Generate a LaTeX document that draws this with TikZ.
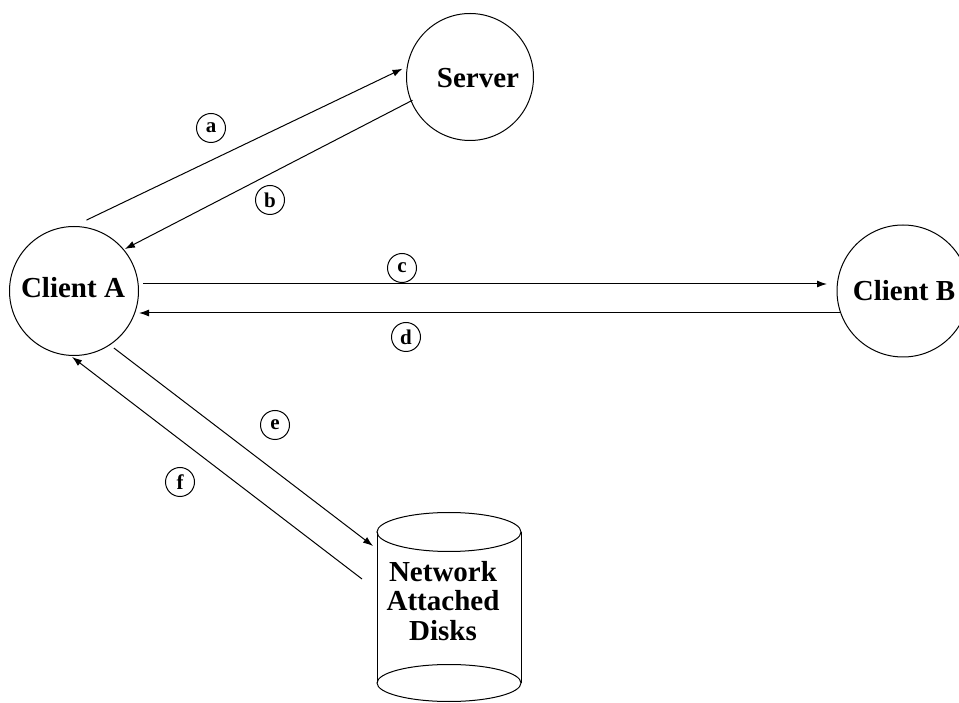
\documentclass[tikz,border=0pt]{standalone}
\usepackage{fontspec}
\setmainfont{Liberation Serif}
\usetikzlibrary{arrows.meta,calc}
\begin{document}
\begin{tikzpicture}[x=1pt,y=1pt,line width=1pt,
  big/.style={font=\fontsize{29}{29.5}\selectfont\bfseries, align=center, inner sep=0pt},
  ent/.style={circle, draw, minimum size=129pt, inner sep=0pt},
  tag/.style={circle, draw, minimum size=29pt, inner sep=0pt, font=\fontsize{21}{21}\selectfont\bfseries},
  arr/.style={-{Latex[length=10pt,width=7pt]}}]
\useasboundingbox (0,0) rectangle (959,702);
% entities
\node[ent] (cA) at (74,411) {};
\node[big] (cAt) at (73,414) {Client A};
\node[ent,minimum size=127pt] (srv) at (470,625) {};
\node[big] (srvt) at (478,624) {Server};
\node[ent,minimum size=132pt] (cB) at (903,411) {};
\node[big] (cBt) at (904,411) {Client B};
% cylinder
\draw (449,170) ellipse [x radius=72, y radius=19.5];
\draw (449,19) ellipse [x radius=72, y radius=18.5];
\draw (377,170) -- (377,19) (521,170) -- (521,19);
\node[big] (nad) at (443,101) {Network\\Attached\\Disks};
\coordinate (eEnd) at ($(nad)+(-70,55)$);
\coordinate (fStart) at ($(nad)+(-81,22)$);
% connectors
\draw[arr] ($(cA)+(80:72)$) -- ($(srv)+(173:68)$);
\draw[arr] ($(srv)+(202:62)$) -- ($(cA)+(39.5:66)$);
\draw[arr] ($(cA)+(69,7)$) -- ($(cB)+(-76,7)$);
\draw[arr] ($(cB)+(-63,-22)$) -- ($(cA)+(65,-22)$);
\draw[arr] ($(cA)+(-55:69.6)$) -- (eEnd);
\draw[arr] (fStart) -- ($(cA)+(-91.7:66)$);
% tags
\node[tag] (ta) at (211,574) {a};
\node[tag] (tb) at (270,502) {b};
\node[tag] (tc) at (402,434) {c};
\node[tag] (td) at (406,365) {d};
\node[tag] (te) at (275,277) {e};
\node[tag] (tf) at (180,220) {f};
\end{tikzpicture}
\end{document}
